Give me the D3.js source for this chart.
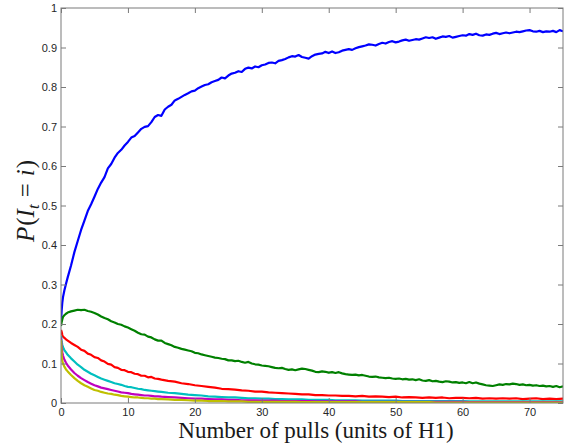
<!DOCTYPE html>
<html><head><meta charset="utf-8">
<script src="https://cdn.jsdelivr.net/npm/d3@7"></script>
<style>
body{margin:0;background:#fff;}
svg{display:block;}
.tick text{font-family:"Liberation Sans",Arial,sans-serif;font-size:11px;fill:#262626;}
</style></head>
<body><svg id="chart" width="574" height="445"></svg>
<script>
// ---- data ----
const xTicks = [0,10,20,30,40,50,60,70];
const yTicks = [0,0.1,0.2,0.3,0.4,0.5,0.6,0.7,0.8,0.9,1];
const yTickLabels = ["0","0.1","0.2","0.3","0.4","0.5","0.6","0.7","0.8","0.9","1"];

// fine time grid (units of H1)
const tFine = [0,0.1,0.2,0.3,0.5,0.75,1,
 1.5,2,2.5,3,3.5,4,4.5,5,5.5,6,6.5,7,7.5,8,8.5,9,9.5,10,
 10.5,11,11.5,12,12.5,13,13.5,14,14.5,15,15.5,16,16.5,17,17.5,18,18.5,19,19.5,20,
 20.5,21,21.5,22,22.5,23,23.5,24,24.5,25,25.5,26,26.5,27,27.5,28,28.5,29,29.5,30,
 30.5,31,31.5,32,32.5,33,33.5,34,34.5,35,35.5,36,36.5,37,37.5,38,38.5,39,39.5,40,
 40.5,41,41.5,42,42.5,43,43.5,44,44.5,45,45.5,46,46.5,47,47.5,48,48.5,49,49.5,50,
 50.5,51,51.5,52,52.5,53,53.5,54,54.5,55,55.5,56,56.5,57,57.5,58,58.5,59,59.5,60,
 60.5,61,61.5,62,62.5,63,63.5,64,64.5,65,65.5,66,66.5,67,67.5,68,68.5,69,69.5,70,
 70.5,71,71.5,72,72.5,73,73.5,74,74.5,75];

const arm1 = [0.205,0.235,0.255,0.268,0.285,0.302,0.318,
 0.348,0.382,0.41,0.438,0.462,0.486,0.503,0.522,0.542,0.558,0.572,0.594,0.605,0.621,0.633,0.641,0.652,0.661,
 0.672,0.676,0.685,0.694,0.699,0.701,0.711,0.724,0.729,0.727,0.743,0.75,0.755,0.766,0.77,0.775,0.78,0.784,0.789,0.791,
 0.797,0.801,0.805,0.807,0.812,0.815,0.818,0.824,0.822,0.829,0.834,0.836,0.84,0.838,0.846,0.849,0.847,0.852,0.85,0.855,
 0.857,0.861,0.862,0.86,0.866,0.868,0.871,0.875,0.878,0.877,0.881,0.876,0.874,0.872,0.878,0.882,0.884,0.885,0.889,0.886,
 0.89,0.886,0.888,0.892,0.894,0.896,0.894,0.898,0.901,0.903,0.905,0.908,0.907,0.905,0.909,0.912,0.91,0.914,0.916,0.913,
 0.915,0.918,0.92,0.917,0.919,0.921,0.92,0.923,0.926,0.924,0.926,0.922,0.925,0.928,0.927,0.929,0.925,0.927,0.929,0.931,
 0.93,0.934,0.932,0.935,0.931,0.93,0.933,0.932,0.935,0.937,0.934,0.936,0.938,0.936,0.938,0.94,0.939,0.941,0.943,0.944,
 0.941,0.94,0.942,0.939,0.941,0.94,0.942,0.939,0.944,0.941];

const arm2 = [0.195,0.205,0.212,0.218,0.222,0.226,0.229,
 0.232,0.234,0.236,0.235,0.236,0.233,0.231,0.228,0.224,0.219,0.215,0.212,0.207,0.204,0.2,0.198,0.194,0.191,
 0.187,0.183,0.178,0.174,0.173,0.168,0.166,0.161,0.158,0.158,0.152,0.149,0.146,0.142,0.14,0.137,0.135,0.133,0.131,0.127,
 0.126,0.123,0.121,0.119,0.117,0.115,0.114,0.112,0.111,0.108,0.108,0.106,0.107,0.104,0.102,0.104,0.1,0.098,0.097,0.095,
 0.094,0.093,0.091,0.089,0.088,0.089,0.086,0.084,0.085,0.083,0.085,0.087,0.086,0.084,0.082,0.079,0.078,0.08,0.079,0.077,
 0.078,0.076,0.078,0.075,0.073,0.072,0.071,0.072,0.07,0.071,0.069,0.067,0.066,0.067,0.065,0.064,0.063,0.064,0.062,0.061,
 0.062,0.06,0.061,0.059,0.06,0.058,0.06,0.057,0.056,0.058,0.055,0.056,0.054,0.053,0.055,0.054,0.052,0.053,0.051,0.052,
 0.05,0.053,0.05,0.052,0.049,0.047,0.045,0.044,0.043,0.045,0.047,0.046,0.048,0.047,0.049,0.048,0.046,0.047,0.045,0.046,
 0.044,0.045,0.043,0.044,0.042,0.043,0.041,0.043,0.04,0.042];

// coarser time grid for the low arms
const tLow = [0,0.1,0.2,0.3,0.5,0.75,1,
 1.5,2,2.5,3,3.5,4,4.5,5,5.5,6,6.5,7,7.5,8,8.5,9,9.5,10,
 10.5,11,11.5,12,12.5,13,13.5,14,14.5,15,
 16,17,18,19,20,21,22,23,24,25,26,27,28,29,30,31,32,33,34,35,36,37,38,39,40,
 41,42,43,44,45,46,47,48,49,50,51,52,53,54,55,56,57,58,59,60,
 61,62,63,64,65,66,67,68,69,70,71,72,73,74,75];

const arm3 = [0.185,0.18,0.172,0.168,0.165,0.161,0.158,
 0.152,0.147,0.142,0.135,0.132,0.125,0.122,0.116,0.114,0.108,0.105,0.099,0.097,0.091,0.089,0.084,0.083,0.079,
 0.078,0.074,0.073,0.069,0.069,0.065,0.066,0.062,0.061,0.059,
 0.056,0.054,0.05,0.048,0.045,0.043,0.041,0.039,0.036,0.035,0.034,0.032,0.031,0.029,0.029,0.027,0.026,0.025,0.024,0.023,0.022,0.022,0.02,0.02,0.019,
 0.019,0.018,0.018,0.017,0.018,0.016,0.017,0.016,0.015,0.016,0.014,0.015,0.014,0.013,0.014,0.013,0.014,0.012,0.013,0.013,
 0.012,0.013,0.011,0.012,0.011,0.012,0.011,0.012,0.01,0.011,0.012,0.01,0.011,0.01,0.011];

const arm4 = [0.17,0.155,0.147,0.141,0.134,0.128,0.122,
 0.113,0.105,0.097,0.091,0.084,0.079,0.074,0.07,0.066,0.062,0.059,0.056,0.053,0.05,0.048,0.046,0.043,0.041,
 0.04,0.038,0.036,0.035,0.033,0.032,0.031,0.03,0.029,0.028,
 0.026,0.025,0.023,0.021,0.02,0.019,0.017,0.016,0.015,0.014,0.014,0.013,0.012,0.012,0.011,0.011,0.01,0.01,0.009,0.009,0.009,0.008,0.008,0.008,0.008,
 0.007,0.007,0.007,0.007,0.006,0.006,0.006,0.006,0.006,0.006,0.005,0.005,0.005,0.005,0.005,0.005,0.005,0.005,0.005,0.005,
 0.004,0.004,0.004,0.004,0.004,0.004,0.004,0.004,0.004,0.004,0.004,0.004,0.004,0.004,0.004];

const arm5 = [0.165,0.14,0.128,0.12,0.11,0.102,0.095,
 0.085,0.076,0.069,0.063,0.058,0.053,0.049,0.045,0.042,0.039,0.037,0.035,0.033,0.031,0.029,0.027,0.026,0.025,
 0.023,0.022,0.021,0.02,0.019,0.019,0.018,0.017,0.017,0.016,
 0.015,0.014,0.013,0.012,0.011,0.011,0.01,0.009,0.009,0.008,0.008,0.007,0.007,0.007,0.006,0.006,0.006,0.005,0.005,0.005,0.005,0.005,0.004,0.004,0.004,
 0.004,0.004,0.004,0.004,0.003,0.003,0.003,0.003,0.003,0.003,0.003,0.003,0.003,0.003,0.003,0.003,0.003,0.003,0.003,0.003,
 0.002,0.002,0.002,0.002,0.002,0.002,0.002,0.002,0.002,0.002,0.002,0.002,0.002,0.002,0.002];

const arm6 = [0.16,0.12,0.106,0.1,0.092,0.085,0.08,
 0.071,0.063,0.056,0.05,0.045,0.041,0.037,0.033,0.031,0.028,0.026,0.024,0.023,0.021,0.02,0.018,0.017,0.016,
 0.015,0.014,0.014,0.013,0.012,0.012,0.011,0.011,0.01,0.01,
 0.009,0.008,0.008,0.007,0.006,0.006,0.005,0.005,0.005,0.004,0.004,0.004,0.003,0.003,0.003,0.003,0.003,0.003,0.003,0.003,0.002,0.002,0.002,0.002,0.002,
 0.002,0.002,0.002,0.002,0.002,0.002,0.002,0.002,0.002,0.002,0.002,0.002,0.002,0.002,0.002,0.001,0.001,0.001,0.001,0.001,
 0.001,0.001,0.001,0.001,0.001,0.001,0.001,0.001,0.001,0.001,0.001,0.001,0.001,0.001,0.001];

const seriesColors = ["#0000ff","#008000","#ff0000","#00bfbf","#bf00bf","#bfbf00"];

// ---- drawing ----
const svg = d3.select("#chart");
const L = 61, R = 563, T = 8, B = 403;
const x = d3.scaleLinear().domain([0,75]).range([L,R]);
const y = d3.scaleLinear().domain([0,1]).range([B,T]);

svg.append("defs").append("clipPath").attr("id","clip")
  .append("rect").attr("x",L).attr("y",T).attr("width",R-L).attr("height",B-T);

const series = [
  {t:tFine, v:arm1}, {t:tFine, v:arm2}, {t:tLow, v:arm3},
  {t:tLow, v:arm4}, {t:tLow, v:arm5}, {t:tLow, v:arm6}
];
const line = d3.line().x(d=>x(d[0])).y(d=>y(d[1]));
const g = svg.append("g").attr("clip-path","url(#clip)");
series.forEach((s,i)=>{
  g.append("path").datum(d3.zip(s.t,s.v))
    .attr("d",line).attr("fill","none")
    .attr("stroke",seriesColors[i]).attr("stroke-width",2.2)
    .attr("stroke-linejoin","round");
});

const axisCol = "#7a7a7a";
function style(sel){
  sel.select(".domain").remove();
  sel.selectAll(".tick line").attr("stroke",axisCol);
}
svg.append("g").attr("transform",`translate(0,${B})`)
  .call(d3.axisBottom(x).tickValues(xTicks).tickSize(-5).tickPadding(5).tickFormat(d3.format("d")))
  .call(style);
svg.append("g").attr("transform",`translate(0,${T})`)
  .call(d3.axisTop(x).tickValues(xTicks).tickSize(-5).tickFormat(""))
  .call(style);
svg.append("g").attr("transform",`translate(${L},0)`)
  .call(d3.axisLeft(y).tickValues(yTicks).tickSize(-5).tickPadding(4).tickFormat((d,i)=>yTickLabels[i]))
  .call(style);
svg.append("g").attr("transform",`translate(${R},0)`)
  .call(d3.axisRight(y).tickValues(yTicks).tickSize(-5).tickFormat(""))
  .call(style);

svg.append("rect").attr("x",L).attr("y",T).attr("width",R-L).attr("height",B-T)
  .attr("fill","none").attr("stroke",axisCol).attr("stroke-width",1);

// x label
svg.append("text").attr("x",316).attr("y",438).attr("text-anchor","middle")
  .attr("font-family","'Liberation Serif','Times New Roman',serif").attr("font-size",23)
  .attr("fill","#1a1a1a").text("Number of pulls (units of H1)");

// y label
const yl = svg.append("text").attr("transform","translate(34,201) rotate(-90)")
  .attr("text-anchor","middle").attr("font-family","'Liberation Serif','Times New Roman',serif")
  .attr("font-size",25).attr("fill","#1a1a1a");
yl.append("tspan").attr("font-style","italic").text("P");
yl.append("tspan").attr("dx",1).text("(");
yl.append("tspan").attr("font-style","italic").text("I");
yl.append("tspan").attr("font-style","italic").attr("font-size",17).attr("dy",5).attr("dx",0).text("t");
yl.append("tspan").attr("dy",-5).attr("dx",7).text("=");
yl.append("tspan").attr("font-style","italic").attr("dx",7).text("i");
yl.append("tspan").attr("dx",1).text(")");
</script></body></html>
